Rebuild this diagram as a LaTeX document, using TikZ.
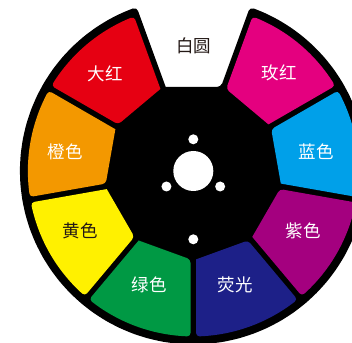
\documentclass[tikz,border=0pt]{standalone}
\usepackage{fontspec}
\newfontfamily\cjk{Noto Sans CJK SC}
\definecolor{cRed}{HTML}{E60012}
\definecolor{cOrange}{HTML}{F39800}
\definecolor{cYellow}{HTML}{FFF100}
\definecolor{cGreen}{HTML}{009944}
\definecolor{cNavy}{HTML}{1D2088}
\definecolor{cPurple}{HTML}{A4007F}
\definecolor{cCyan}{HTML}{00A0E9}
\definecolor{cMagenta}{HTML}{E4007F}
\definecolor{cInk}{HTML}{231815}
\begin{document}
\begin{tikzpicture}[x=1pt,y=1pt,
  lbl/.style={font=\cjk\fontsize{17.5}{20}\selectfont, text=white, inner sep=0pt},
  dlbl/.style={lbl, text=cInk}]
\useasboundingbox (0,0) rectangle (352,342);
\clip (0,0) rectangle (352,342);
\fill[white] (0,0) rectangle (352,342);
\begin{scope}[shift={(193.3,171)}]
  \pgfmathsetmacro\a{84}
  \pgfmathsetmacro\hh{2.8}
  \pgfmathsetmacro\Ro{165.5}
  \pgfmathsetmacro\R{173.5}
  \pgfmathsetmacro\tin{(\a-\hh*cos(70))/cos(20)}
  \pgfmathsetmacro\dd{asin(\hh/\Ro)}
  \pgfmathsetmacro\dR{asin(\hh/\R)}
  \pgfmathsetmacro\bS{110-\dR}
  \pgfmathsetmacro\bE{430+\dR}
  \pgfmathsetmacro\bstep{(\bE-\bS)/64}
  \pgfmathsetmacro\wxA{\tin*cos(110)+\hh*cos(20)}
  \pgfmathsetmacro\wxB{\tin*cos(70)+\hh*cos(160)}
  % black disc with white sector cut out
  \fill[black] (\wxA,\a) [rounded corners=4pt] -- (\bS:\R)
    \foreach \i in {1,...,63}{ -- ({\bS+\i*\bstep}:\R) }
    -- (\bE:\R) -- (\wxB,\a) [sharp corners] -- cycle;
  % coloured segments
  \foreach \th/\col in {130/cRed,170/cOrange,210/cYellow,250/cGreen,290/cNavy,330/cPurple,370/cCyan,410/cMagenta}{
    \pgfmathsetmacro\xB{\tin*cos(\th-20)+\hh*cos(\th+70)}
    \pgfmathsetmacro\yB{\tin*sin(\th-20)+\hh*sin(\th+70)}
    \pgfmathsetmacro\xA{\tin*cos(\th+20)+\hh*cos(\th-70)}
    \pgfmathsetmacro\yA{\tin*sin(\th+20)+\hh*sin(\th-70)}
    \pgfmathsetmacro\sA{\th-20+\dd}
    \pgfmathsetmacro\sE{\th+20-\dd}
    \pgfmathsetmacro\sstep{(\sE-\sA)/12}
    \fill[\col] (\xB,\yB) [rounded corners=3.5pt] -- (\sA:\Ro)
      \foreach \i in {1,...,11}{ -- ({\sA+\i*\sstep}:\Ro) }
      -- (\sE:\Ro) -- (\xA,\yA) [sharp corners] -- cycle;
  }
  % holes
  \fill[white] (0,0) circle (20);
  \fill[white] (90:31.7) circle (5);
  \fill[white] (210:31) circle (5);
  \fill[white] (330:31) circle (5);
  \fill[white] (270:68.3) circle (5);
\end{scope}
\node[dlbl] (white) at (193.7,296.3) {白圆};
\node[lbl] (red) at (105,268.5) {大红};
\node[lbl] (magenta) at (279.3,268.7) {玫红};
\node[lbl] (orange) at (65,190.3) {橙色};
\node[lbl] (cyan) at (316,190.3) {蓝色};
\node[dlbl] (yellow) at (80,111) {黄色};
\node[lbl] (purple) at (303.3,111) {紫色};
\node[lbl] (green) at (149,57) {绿色};
\node[lbl] (navy) at (235,57) {荧光};
\end{tikzpicture}
\end{document}
